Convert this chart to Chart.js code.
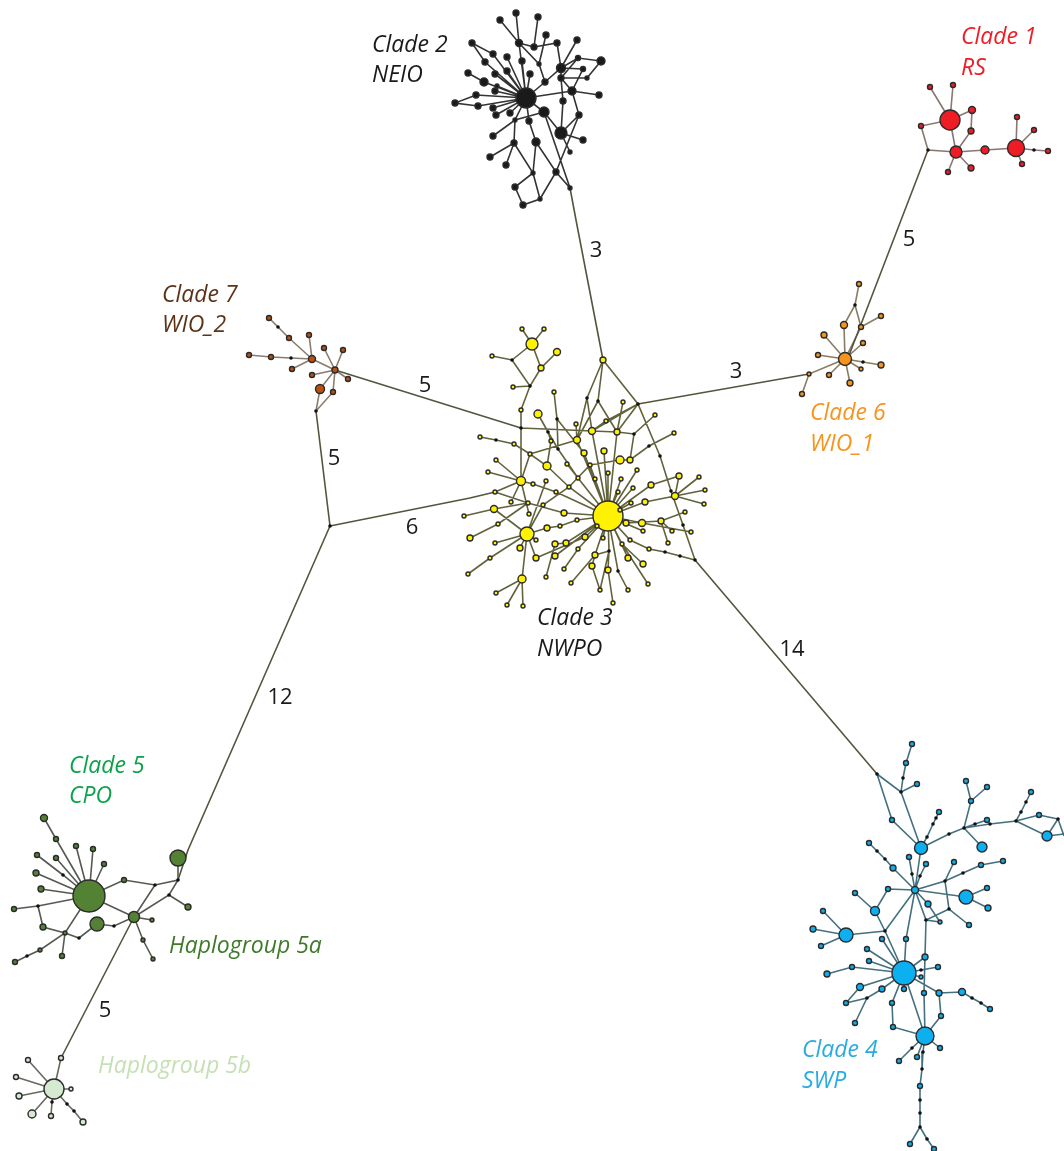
<!DOCTYPE html>
<html>
<head>
<meta charset="utf-8">
<title>Haplotype network</title>
<script src="https://cdn.jsdelivr.net/npm/chart.js@4/dist/chart.umd.min.js"></script>
<style>
html, body { margin: 0; padding: 0; background: #fff; }
#wrap { width: 1064px; height: 1151px; }
#network { filter: blur(0.4px); }
</style>
</head>
<body>
<div id="wrap"><canvas id="network"></canvas></div>
<script>
// haplotypes: [x, y, bubble r]
var clade1Nodes = [[950,120,10],[930,87,2.5],[953,85,2.5],[972,110,3.5],[971,131,3],[921,126,2.5],[956,152,6],[948,172,2.5],[971,168,3],[985,150,4],[1016,148,8.5],[1017,117,2.5],[1034,130,2.5],[1022,164,2.5],[1048,151,2.5]];
var clade2Nodes = [[526,98,10],[500,20,3],[516,13,3],[538,17,3],[546,35,3],[519,43,3.5],[534,47,3],[557,43,3],[577,40,3],[472,43,3],[493,54,3],[507,57,3],[522,61,3],[539,64,2],[485,62,3],[468,73,3],[495,74,3],[507,71,3],[530,74,3],[561,68,4.5],[578,58,2.5],[601,61,4],[583,69,2.5],[561,78,3],[587,78,2],[545,82,3],[484,82,4],[497,86,2],[495,91,3],[572,91,4],[599,95,3],[563,101,3],[476,95,3],[455,103,3],[478,106,3],[493,108,3],[496,115,3],[510,113,3],[544,112,5],[579,115,3],[515,120,2],[529,121,3],[561,133,6],[493,136,3],[514,143,3],[536,142,4],[583,140,3],[570,152,2],[490,157,3],[506,165,3],[533,173,2],[556,172,3],[570,188,2],[515,187,3],[540,199,2],[523,205,3]];
var clade3Nodes = [[608,516,15],[603,360,3],[532,344,6],[522,329,2],[544,329,2],[557,352,3.5],[492,356,2],[541,368,3],[513,387,2],[521,410,2],[554,392,2],[538,414,4],[623,402,2],[655,415,2],[576,424,2],[606,421,2],[592,431,3.5],[617,432,3],[674,433,2],[577,440,3.5],[551,441,2],[480,437,2],[514,444,2],[530,454,2],[584,453,3],[604,451,3],[496,460,2],[547,466,4],[567,464,2],[590,465,2],[620,460,4],[630,460,3],[637,470,2],[488,472,2],[608,473,2],[578,478,2],[595,479,2],[621,479,2],[521,481,4.5],[533,484,2],[546,481,2],[569,487,2],[556,492,2],[495,492,2],[618,492,2],[633,488,2],[651,485,3],[679,476,3],[699,477,2],[705,490,2],[675,496,3.5],[704,504,2],[511,502,2],[528,503,2],[543,505,2],[631,503,2],[645,502,3],[494,509,3.5],[464,516,2],[529,514,2],[564,513,3],[620,510,2],[685,512,2],[661,521,3],[642,523,3.5],[626,523,3],[577,520,2],[560,526,2],[498,524,2],[547,528,3],[527,534,7],[470,538,3],[495,543,2],[536,540,2],[555,544,3],[566,543,3],[585,537,3],[603,538,2],[597,526,2],[643,531,2],[672,531,2],[691,532,2],[630,540,2],[668,543,2],[520,548,3],[578,549,2],[622,544,2],[649,549,2],[490,558,2],[536,558,3],[555,556,3],[595,555,3],[628,558,3],[643,564,3],[592,566,3],[564,569,2],[608,570,3],[468,574,2],[546,577,2],[522,579,4],[571,583,2],[648,584,2],[496,593,2],[507,605,2],[523,606,2],[600,590,2],[628,590,2],[613,603,2]];
var clade4Nodes = [[912,744,2.5],[906,763,2.5],[917,784,2.5],[892,820,2.5],[921,848,6.5],[939,812,2.5],[966,781,2.5],[987,787,2.5],[971,801,2.5],[987,820,2.5],[982,847,5],[1031,792,2.5],[1039,815,2.5],[1047,836,5],[869,843,2.5],[893,868,3],[909,857,2.5],[926,864,2.5],[954,862,2.5],[1003,861,2.5],[981,865,2.5],[915,890,3.5],[888,889,2.5],[855,893,2.5],[875,911,4.5],[823,911,2.5],[966,897,7],[987,888,2.5],[988,908,3],[928,904,3],[969,925,2.5],[940,922,2],[813,929,3],[846,935,7],[821,946,2.5],[882,939,2.5],[906,939,2.5],[925,957,3],[867,949,2.5],[869,961,2.5],[852,967,2.5],[827,974,3],[904,973,12],[938,967,2.5],[921,977,2],[904,989,2.5],[939,993,3],[962,992,3.5],[924,993,2.5],[860,987,3.5],[882,989,3],[846,1003,2.5],[855,1023,2.5],[892,1003,2.5],[893,1027,2.5],[941,1016,2.5],[990,1009,2.5],[925,1036,9],[899,1061,2.5],[917,1057,2.5],[940,1048,2.5],[920,1086,2.5],[910,1144,2.5],[934,1149,2.5]];
var clade5aNodes = [[89,896,16],[44,818,3.5],[56,839,2.5],[76,846,2.5],[93,849,2.5],[37,855,2.5],[56,858,2.5],[104,864,2.5],[36,873,3],[41,889,3],[14,909,2.5],[43,927,3],[65,933,2],[97,924,7],[134,917,5.5],[152,920,2],[143,940,2],[153,959,2],[40,950,2],[15,962,2.5],[62,956,2.5],[124,880,2.5],[178,858,8],[188,907,3]];
var clade5bNodes = [[54,1089,10],[61,1058,2.5],[28,1060,2.5],[16,1077,2.5],[71,1089,2],[19,1096,3],[32,1114,4],[51,1116,2.5],[83,1122,3]];
var clade6Nodes = [[845,359,6.5],[859,284,2.5],[844,325,3.5],[861,327,2.5],[881,316,2.5],[824,335,3],[863,343,2.5],[818,355,2.5],[881,365,3],[861,369,2],[829,375,2.5],[850,383,3],[809,374,2],[802,394,2.5]];
var clade7Nodes = [[269,318,2.5],[289,338,2.5],[309,335,2.5],[312,359,3.5],[249,355,2.5],[271,357,2.5],[292,369,2.5],[324,348,2.5],[343,350,2.5],[335,370,3],[312,375,2.5],[348,379,2.5],[320,389,4.5],[333,392,2.5]];

// median vectors (black dots)
var medianNodes = [[928,150],[1034,150],[512,360],[530,386],[521,428],[557,419],[587,398],[598,401],[638,404],[634,434],[548,432],[496,440],[558,449],[649,446],[660,456],[671,491],[683,525],[665,552],[680,556],[695,560],[609,551],[618,571],[278,327],[291,358],[316,411],[330,526],[855,305],[863,362],[63,875],[38,906],[79,938],[114,926],[27,956],[155,885],[178,880],[169,895],[52,1102],[67,1104],[74,1111],[903,778],[901,792],[877,774],[936,818],[933,824],[927,837],[964,828],[949,834],[975,824],[990,824],[1026,802],[1021,812],[1016,821],[1058,819],[877,851],[885,859],[912,874],[920,876],[963,873],[945,881],[949,909],[926,920],[885,931],[921,970],[867,998],[972,998],[981,1003],[912,1048],[923,1052],[922,1069],[920,1100],[920,1113],[920,1127],[927,1139]];

// links: each row is one polyline x,y,x,y...
var clade1Links = [[950,120,930,87],[950,120,953,85],[950,120,972,110,971,131,956,152,950,120],[950,120,921,126,928,150,956,152,985,150,1016,148,1034,150,1048,151],[1016,148,1017,117],[1016,148,1034,130],[1016,148,1022,164],[956,152,948,172],[956,152,971,168]];
var clade2Links = [[526,98,519,43,500,20],[519,43,516,13],[519,43,534,47,538,17],[534,47,557,43,561,68],[519,43,539,64,545,82],[546,35,539,64],[561,68,577,40],[526,98,522,61],[472,43,493,54,526,98],[472,43,485,62,526,98],[526,98,507,57],[526,98,507,71],[526,98,495,74],[526,98,530,74],[526,98,484,82,468,73],[526,98,497,86],[526,98,495,91],[526,98,476,95,455,103,478,106,526,98],[526,98,493,108],[526,98,496,115],[526,98,510,113],[526,98,545,82,561,68,578,58,601,61,587,78,561,78],[561,68,583,69,572,91],[578,58,561,78,572,91],[526,98,572,91,599,95],[572,91,579,115,561,133],[526,98,544,112,561,133,583,140],[561,133,570,152],[561,133,563,101,561,78,561,68],[544,112,515,120,493,136],[526,98,515,120,514,143,490,157],[514,143,506,165],[514,143,533,173,515,187,523,205,540,199,556,172,536,142,529,121,526,98],[533,173,540,199],[536,142,533,173],[536,142,556,172,570,188],[556,172,579,115],[544,112,570,188]];
var clade3Links = [[603,360,587,398],[603,360,598,401],[603,360,638,404,660,456,671,491,683,525,695,560],[587,398,577,440],[598,401,577,440],[598,401,617,432],[587,398,592,431],[638,404,592,431],[638,404,606,421],[638,404,617,432],[623,402,617,432],[521,428,592,431,617,432,634,434,655,415],[634,434,630,460],[576,424,577,440],[606,421,592,431],[577,440,530,454],[557,419,558,449],[554,392,557,419,584,453,608,516],[538,414,548,432,558,449,578,478,608,516],[548,432,551,441],[480,437,496,440,514,444,530,454,547,466,569,487,608,516],[530,454,521,481],[532,344,522,329],[532,344,544,329],[532,344,512,360,492,356],[532,344,541,368,557,352],[512,360,530,386,513,387],[541,368,530,386,521,410,521,428,521,481],[521,481,496,460],[521,481,488,472],[521,481,533,484,556,492,608,516],[521,481,495,492],[495,492,528,503,564,513,608,516],[521,481,511,502],[464,516,494,509,528,503],[494,509,527,534],[470,538,498,524,528,503],[490,558,527,534],[495,543,527,534],[468,574,490,558],[527,534,520,548],[527,534,536,558],[527,534,536,540],[527,534,522,579,496,593],[522,579,507,605],[522,579,523,606],[527,534,547,528,560,526,577,520,608,516],[527,534,546,481],[527,534,543,505,569,487,590,465,620,460,630,460,649,446,674,433],[529,514,521,481],[551,441,547,466],[567,464,578,478],[608,516,637,470],[608,516,621,479],[608,516,633,488],[608,516,618,492],[608,516,608,473],[608,516,604,451],[608,516,595,479],[608,516,651,485,679,476,675,496],[608,516,645,502,675,496],[608,516,631,503],[608,516,620,510],[675,496,699,477],[675,496,705,490],[675,496,704,504],[608,516,626,523,661,521,685,512],[661,521,672,531],[661,521,668,543],[608,516,642,523,691,532],[608,516,643,531],[608,516,630,540,649,549,665,552,680,556,695,560],[608,516,622,544,643,564],[608,516,628,558],[622,544,648,584],[608,516,618,571,628,590],[608,516,609,551,608,570,613,603],[609,551,600,590],[609,551,595,555],[608,516,595,555,592,566,600,590],[595,555,571,583],[608,516,603,538],[608,516,597,526],[608,516,585,537,536,558],[608,516,566,543,555,544,546,577],[608,516,578,549,564,569],[608,516,555,556],[608,516,592,431],[608,516,617,432],[608,516,577,440],[608,516,590,465]];
var clade4Links = [[877,774,901,792,921,848],[877,774,892,820,921,848],[901,792,917,784],[901,792,903,778,906,763,912,744],[921,848,927,837,933,824,936,818,939,812],[921,848,949,834,964,828,971,801,966,781],[971,801,987,787],[964,828,975,824,987,820],[964,828,990,824,1016,821,1021,812,1026,802,1031,792],[1016,821,1039,815,1058,819,1047,836,1016,821],[1058,819,1064,836],[1047,836,1064,834],[964,828,982,847],[921,848,915,890],[915,890,912,874,909,857],[915,890,920,876,926,864],[915,890,893,868,885,859,877,851,869,843],[915,890,888,889,875,911,855,893],[875,911,885,931],[915,890,885,931,846,935,813,929],[846,935,823,911],[846,935,821,946],[915,890,945,881,954,862],[945,881,963,873,981,865,1003,861],[945,881,949,909,969,925],[949,909,926,920,940,922,928,904,915,890],[915,890,926,920,924,993,925,1036],[915,890,966,897,987,888],[966,897,988,908],[915,890,906,939,904,973],[885,931,904,973],[882,939,904,973],[904,973,925,957],[904,973,867,949],[904,973,869,961],[904,973,852,967,827,974],[904,973,860,987,846,1003],[904,973,882,989,867,998,846,1003],[867,998,855,1023],[904,973,904,989],[904,973,921,970,938,967],[904,973,921,977],[904,973,939,993,962,992,972,998,981,1003,990,1009],[939,993,941,1016,925,1036],[904,973,925,1036],[904,973,892,1003,893,1027,925,1036],[925,1036,912,1048,899,1061],[925,1036,917,1057],[925,1036,940,1048],[925,1036,923,1052,922,1069,920,1086,920,1100,920,1113,920,1127,910,1144],[920,1127,927,1139,934,1149]];
var clade5aLinks = [[89,896,76,846],[89,896,56,839,44,818],[89,896,93,849],[89,896,104,864],[89,896,63,875,37,855],[89,896,56,858],[89,896,36,873],[89,896,41,889],[89,896,38,906,14,909],[38,906,43,927,65,933,79,938,97,924,114,926,134,917,89,896],[89,896,65,933,40,950,27,956,15,962],[65,933,62,956],[89,896,124,880,155,885,178,880,178,858],[178,880,169,895,134,917],[155,885,134,917],[169,895,188,907],[134,917,152,920],[134,917,143,940,153,959]];
var clade5bLinks = [[54,1089,61,1058],[54,1089,28,1060],[54,1089,16,1077],[54,1089,71,1089],[54,1089,19,1096],[54,1089,32,1114],[54,1089,52,1102,51,1116],[54,1089,67,1104,74,1111,83,1122]];
var clade6Links = [[845,359,844,325,855,305,859,284],[855,305,861,327,845,359],[861,327,881,316],[845,359,824,335],[845,359,863,343],[845,359,818,355],[845,359,863,362,881,365],[845,359,861,369],[845,359,829,375],[845,359,850,383],[845,359,809,374,802,394]];
var clade7Links = [[312,359,289,338,278,327,269,318],[312,359,309,335],[312,359,291,358,271,357,249,355],[312,359,292,369],[312,359,335,370],[335,370,324,348],[335,370,343,350],[335,370,312,375],[335,370,348,379],[335,370,320,389,316,411],[335,370,333,392,316,411]];
// the long branches between clades
var branchLinks = [[570,188,576,220,603,360],[928,150,848,358],[638,404,809,374],[335,370,521,428],[316,411,330,526],[330,526,470,498,495,492],[330,526,188,850,178,880],[695,560,877,774],[134,917,61,1058]];

var labelTexts = ['Clade 1','RS','Clade 2','NEIO','Clade 3','NWPO','Clade 4','SWP','Clade 5','CPO','Haplogroup 5a','Haplogroup 5b','Clade 6','WIO_1','Clade 7','WIO_2'];
var labelX = [961,961,372,372,537,537,802,802,69,69,169,98,810,810,162,162];
var labelY = [37,68,45,75,618,649,1050,1081,766,796,946,1066,413,444,295,325];
var labelColors = ['#ee1c25','#ee1c25','#1a1a1a','#1a1a1a','#1a1a1a','#1a1a1a','#29abe2','#29abe2','#0da14b','#0da14b','#3f7a2a','#c5e0b4','#f7941d','#f7941d','#5c3317','#5c3317'];
var stepTexts = ['3','5','5','3','5','6','12','14','5'];
var stepX = [596,909,425,736,334,412,280,792,105];
var stepY = [251,240,386,372,459,528,698,650,1011];

function bubbles(list) {
    return list.map(function (n) { return { x: n[0], y: n[1], r: n[2] }; });
}

// flat polylines -> one dataset, NaN breaks the line between rows
function polyline(rows) {
    var pts = [];
    rows.forEach(function (row) {
        for (var i = 0; i < row.length; i += 2) {
            pts.push({ x: row[i], y: row[i + 1] });
        }
        pts.push({ x: NaN, y: NaN });
    });
    return pts;
}

function linkSet(rows, color) {
    return {
        type: 'scatter', data: polyline(rows), showLine: true, spanGaps: false,
        borderColor: color, borderWidth: 1.6, pointRadius: 0, order: 3, clip: false
    };
}

function nodeSet(list, fill) {
    return {
        type: 'bubble', data: bubbles(list), backgroundColor: fill,
        borderColor: '#2b2b2b', borderWidth: 1.4, order: 1, clip: false
    };
}

var labelPlugin = {
    id: 'labels',
    afterDatasetsDraw: function (chart) {
        var ctx = chart.ctx, sx = chart.scales.x, sy = chart.scales.y;
        ctx.save();
        ctx.textBaseline = 'middle';
        ctx.textAlign = 'left';
        ctx.font = 'italic 23px "Open Sans"';
        labelTexts.forEach(function (t, i) {
            ctx.fillStyle = labelColors[i];
            ctx.fillText(t, sx.getPixelForValue(labelX[i]), sy.getPixelForValue(labelY[i]));
        });
        ctx.textAlign = 'center';
        ctx.font = '22px "Open Sans"';
        ctx.fillStyle = '#1a1a1a';
        stepTexts.forEach(function (t, i) {
            ctx.fillText(t, sx.getPixelForValue(stepX[i]), sy.getPixelForValue(stepY[i]));
        });
        ctx.restore();
    }
};

new Chart(document.getElementById('network').getContext('2d'), {
    type: 'bubble',
    data: {
        datasets: [
            linkSet(branchLinks, '#55553f'),
            linkSet(clade1Links, '#8a7673'),
            linkSet(clade2Links, '#333333'),
            linkSet(clade3Links, '#62623c'),
            linkSet(clade4Links, '#44707f'),
            linkSet(clade5aLinks, '#555a50'),
            linkSet(clade5bLinks, '#666a62'),
            linkSet(clade6Links, '#8a7c62'),
            linkSet(clade7Links, '#8a7c70'),
            nodeSet(clade1Nodes, '#ee1c25'),
            nodeSet(clade2Nodes, '#1a1a1a'),
            nodeSet(clade3Nodes, '#fff200'),
            nodeSet(clade4Nodes, '#0cb0f0'),
            nodeSet(clade5aNodes, '#548235'),
            nodeSet(clade5bNodes, '#d5ead0'),
            nodeSet(clade6Nodes, '#f7941d'),
            nodeSet(clade7Nodes, '#b9500f'),
            {
                type: 'scatter', data: medianNodes.map(function (n) { return { x: n[0], y: n[1] }; }),
                pointRadius: 1.8, backgroundColor: '#111', borderWidth: 0, order: 0, clip: false
            }
        ]
    },
    options: {
        responsive: true,
        maintainAspectRatio: false,
        animation: false,
        // the bubble controller would otherwise pad the plot for its largest radius
        layout: { padding: 0, autoPadding: false },
        plugins: { legend: { display: false }, tooltip: { enabled: false } },
        scales: {
            x: { type: 'linear', min: 0, max: 1064, display: false },
            y: { type: 'linear', min: 0, max: 1151, reverse: true, display: false }
        }
    },
    plugins: [labelPlugin]
});
</script>
</body>
</html>
